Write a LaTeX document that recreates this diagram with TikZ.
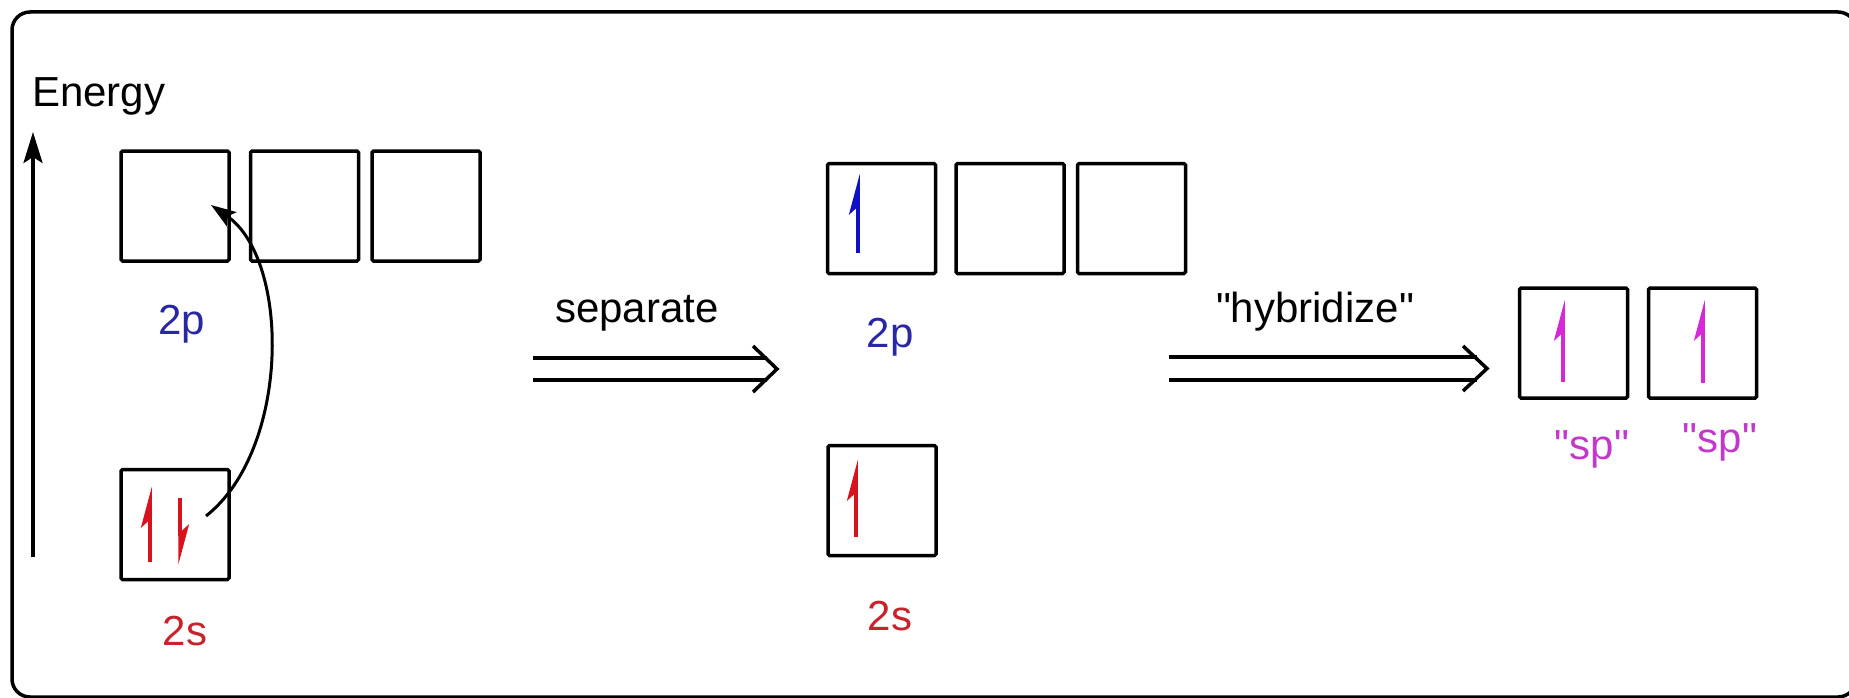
\documentclass[tikz,border=0pt]{standalone}
\usepackage{fontspec}
\newfontfamily\arialfont{Liberation Sans}
\usetikzlibrary{arrows.meta,calc}
\definecolor{pblue}{RGB}{40,40,165}
\definecolor{ablue}{RGB}{15,15,200}
\definecolor{sred}{RGB}{200,35,45}
\definecolor{ared}{RGB}{215,20,30}
\definecolor{smag}{RGB}{195,55,205}
\definecolor{amag}{RGB}{215,40,215}
\begin{document}
\begin{tikzpicture}[x=1pt,y=-1pt,
  orb/.style={draw, line width=3.5pt, minimum width=108pt, minimum height=110pt, inner sep=0pt, rounded corners=1.5pt},
  lbl/.style={anchor=base, inner sep=0pt, font=\arialfont\fontsize{42}{50}\selectfont},
  spin/.style={line width=3.5pt, -{Stealth[harpoon, length=34pt, width=18pt, inset=8pt]}},
  conn/.style={line width=3pt, -{Stealth[length=25pt, width=17pt, inset=5pt]}},
  dbl/.style={line width=3.5pt, line join=miter}
]
\fill[white] (0,0) rectangle (1849,698);
\useasboundingbox (0,0) rectangle (1849,698);
\clip (0,0) rectangle (1849,698);
% frame
\draw[line width=3.5pt, rounded corners=18pt] (12,12) rectangle (1856,697);

% energy axis
\node[lbl, anchor=base west] (energy) at (32,107) {Energy};
\coordinate (ebot) at (33,557);
\coordinate (etop) at (33,132);
\draw[line width=3.5pt, -{Stealth[length=31pt, width=19pt, inset=6pt]}] (ebot) -- (etop);

% left column
\node[orb] (L2p1) at (175,206) {};
\node[orb] (L2p2) at (304.5,206) {};
\node[orb] (L2p3) at (426,206) {};
\node[orb] (L2s) at (175,524.5) {};
\node[lbl, text=pblue] (l2p) at (182,334) {2p};
\node[lbl, text=sred] (l2s) at (185,645) {2s};
\draw[spin, ared] (150,562) -- (150,487);
\draw[spin, ared] (180,498) -- (180,565);
\coordinate (cs) at (206,516);
\coordinate (ce) at (211,205);
\draw[conn] (cs) .. controls (290,450) and (291,260) .. (ce);

% separate arrow
\node[lbl] (tsep) at (637,322) {separate};
\coordinate (s1) at (533,369);
\coordinate (s2) at (777,369);
\draw[dbl] ($(s1)+(0,-11)$) -- ($(s2)+(-10,-11)$);
\draw[dbl] ($(s1)+(0,11)$) -- ($(s2)+(-10,11)$);
\draw[dbl] ($(s2)+(-24,-23)$) -- (s2) -- ($(s2)+(-24,23)$);

% middle column
\node[orb] (M2p1) at (881.5,218.5) {};
\node[orb] (M2p2) at (1010,218.5) {};
\node[orb] (M2p3) at (1131.5,218.5) {};
\node[orb] (M2s) at (882,500.5) {};
\node[lbl, text=pblue] (m2p) at (890,347) {2p};
\node[lbl, text=sred] (m2s) at (890,630) {2s};
\draw[spin, ablue] (858,253) -- (858,174);
\draw[spin, ared] (856,537) -- (856,460);

% hybridize arrow
\node[lbl] (thyb) at (1315,322) {"hybridize"};
\coordinate (h1) at (1169,368.5);
\coordinate (h2) at (1487,368.5);
\draw[dbl] ($(h1)+(0,-11.5)$) -- ($(h2)+(-10,-11.5)$);
\draw[dbl] ($(h1)+(0,11.5)$) -- ($(h2)+(-10,11.5)$);
\draw[dbl] ($(h2)+(-24,-22.5)$) -- (h2) -- ($(h2)+(-24,22.5)$);

% sp orbitals
\node[orb] (SP1) at (1573.5,343) {};
\node[orb] (SP2) at (1702.5,343) {};
\node[lbl, text=smag] (sp1) at (1592,459) {"sp"};
\node[lbl, text=smag] (sp2) at (1720,452) {"sp"};
\draw[spin, amag] (1563,382) -- (1563,300);
\draw[spin, amag] (1703,383) -- (1703,300);
\end{tikzpicture}
\end{document}
